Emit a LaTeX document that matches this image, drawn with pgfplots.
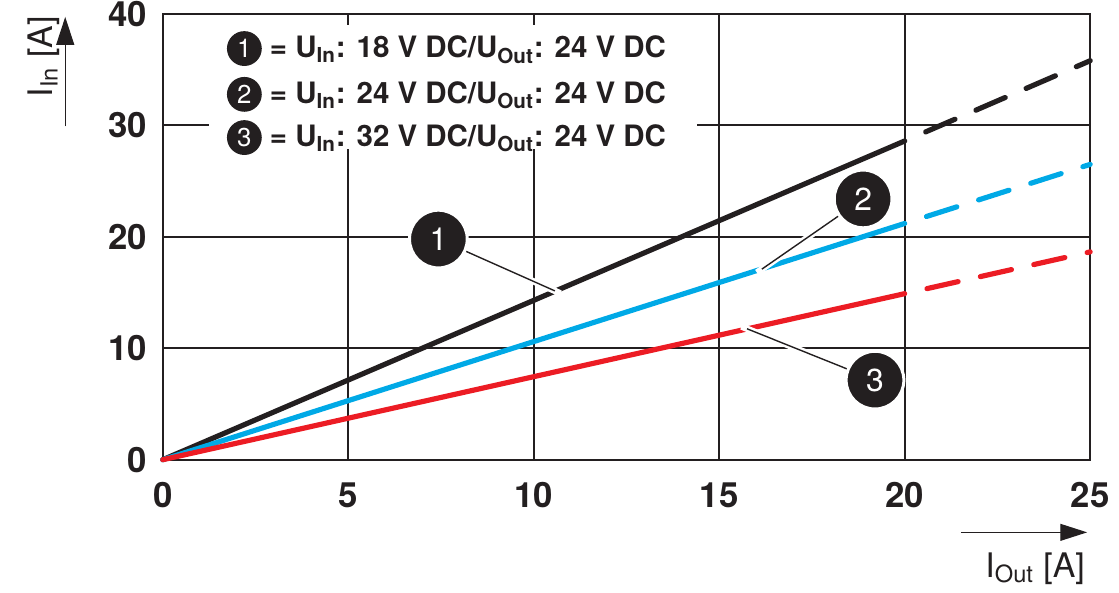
\documentclass[border=0pt]{standalone}
\usepackage{fontspec}
\setmainfont{TeX Gyre Heros}
\usepackage{pgfplots}
\pgfplotsset{compat=1.18}
\usetikzlibrary{calc,arrows.meta}

\definecolor{cblack}{HTML}{231F20}
\definecolor{cblue}{HTML}{00A9E6}
\definecolor{cred}{HTML}{EC1C24}

\newsavebox\cA \newsavebox\cB \newsavebox\cC
\newcommand\mkcirc[2]{\sbox#1{\tikz[baseline=(n.base)]\node[circle,fill=cblack,text=white,inner sep=0pt,
  minimum size=17.5pt,font=\mdseries\fontsize{13}{13}\selectfont](n){#2};}}

\tikzset{callout/.style={circle, fill=cblack, draw=white, line width=1.5pt, minimum size=29pt,
  inner sep=0pt, text=white, font=\fontsize{16}{16}\selectfont},
  leader/.style={cblack, line width=0.7pt, preaction={draw=white, line width=3.2pt, shorten >=-3pt}}}

\begin{document}
\mkcirc\cA{1}\mkcirc\cB{2}\mkcirc\cC{3}
\begin{tikzpicture}
\begin{axis}[
    name=ax,
    scale only axis, width=466pt, height=224pt,
    xmin=0, xmax=25, ymin=0, ymax=40,
    xtick={0,5,10,15,20,25},
    ytick={0,10,20,30,40},
    grid=major, major grid style={cblack, line width=1pt},
    axis line style={cblack, line width=1pt},
    major tick length=0pt,
    /pgf/number format/assume math mode=true,
    ticklabel style={font=\bfseries\fontsize{17.5}{18}\selectfont, text=cblack},
    xticklabel style={yshift=-8pt},
    yticklabel style={xshift=-4.5pt},
    clip=false,
]
% curves (solid up to 20 A, dashed beyond)
\addplot[cblack, line width=2.6pt, line cap=round] coordinates {(0,0) (20,28.6)};
\addplot[cblack, line width=2.6pt, line cap=round, dash pattern=on 16pt off 11.5pt, dash phase=16pt]
    coordinates {(20,28.6) (25,35.8)};
\addplot[cblue, line width=2.6pt, line cap=round] coordinates {(0,0) (20,21.2)};
\addplot[cblue, line width=2.6pt, line cap=round, dash pattern=on 16pt off 11.5pt, dash phase=16pt]
    coordinates {(20,21.2) (25,26.5)};
\addplot[cred, line width=2.6pt, line cap=round] coordinates {(0,0) (20,14.9)};
\addplot[cred, line width=2.6pt, line cap=round, dash pattern=on 16pt off 11.5pt, dash phase=16pt]
    coordinates {(20,14.9) (25,18.65)};

% legend box
\fill[white] (axis cs:1.26,39.0) rectangle (axis cs:14.4,27.9);
\node[anchor=base west, inner sep=0pt, font=\bfseries\fontsize{14.8}{15}\selectfont, text=cblack]
    at (axis cs:1.72,36.07) {\usebox\cA\ = U\textsubscript{In}: 18 V DC/U\textsubscript{Out}: 24 V DC};
\node[anchor=base west, inner sep=0pt, font=\bfseries\fontsize{14.8}{15}\selectfont, text=cblack]
    at (axis cs:1.72,31.96) {\usebox\cB\ = U\textsubscript{In}: 24 V DC/U\textsubscript{Out}: 24 V DC};
\node[anchor=base west, inner sep=0pt, font=\bfseries\fontsize{14.8}{15}\selectfont, text=cblack]
    at (axis cs:1.72,28.1) {\usebox\cC\ = U\textsubscript{In}: 32 V DC/U\textsubscript{Out}: 24 V DC};

% callouts
\draw[leader] (axis cs:7.43,19.8) -- (axis cs:10.57,15.15);
\draw[leader] (axis cs:18.88,23.4) -- (axis cs:16.15,17.1);
\draw[leader] (axis cs:19.2,7.14) -- (axis cs:15.75,11.75);
\node[callout] at (axis cs:7.43,19.8) {1};
\node[callout] at (axis cs:18.88,23.4) {2};
\node[callout] at (axis cs:19.2,7.14) {3};
\end{axis}

% axis labels with arrows
\draw[cblack, line width=0.6pt, -{Triangle[length=14pt, width=9pt]}]
    ($(ax.south west)+(-49pt,167.5pt)$) -- ($(ax.south west)+(-49pt,222.5pt)$);
\node[anchor=base west, rotate=90, inner sep=0pt, font=\fontsize{17}{17}\selectfont, text=cblack]
    at ($(ax.south west)+(-55.5pt,182pt)$) {I\textsubscript{In} [A]};
\draw[cblack, line width=0.6pt, -{Triangle[length=13.5pt, width=8.5pt]}]
    ($(ax.south west)+(401pt,-36.5pt)$) -- ($(ax.south west)+(464.5pt,-36.5pt)$);
\node[anchor=base east, inner sep=0pt, font=\fontsize{17}{17}\selectfont, text=cblack]
    at ($(ax.south west)+(463.5pt,-59pt)$) {I\textsubscript{Out} [A]};

\pgfresetboundingbox
\path ($(ax.south west)+(-79pt,-66.5pt)$) rectangle ($(ax.south west)+(480.5pt,231pt)$);
\end{tikzpicture}
\end{document}
